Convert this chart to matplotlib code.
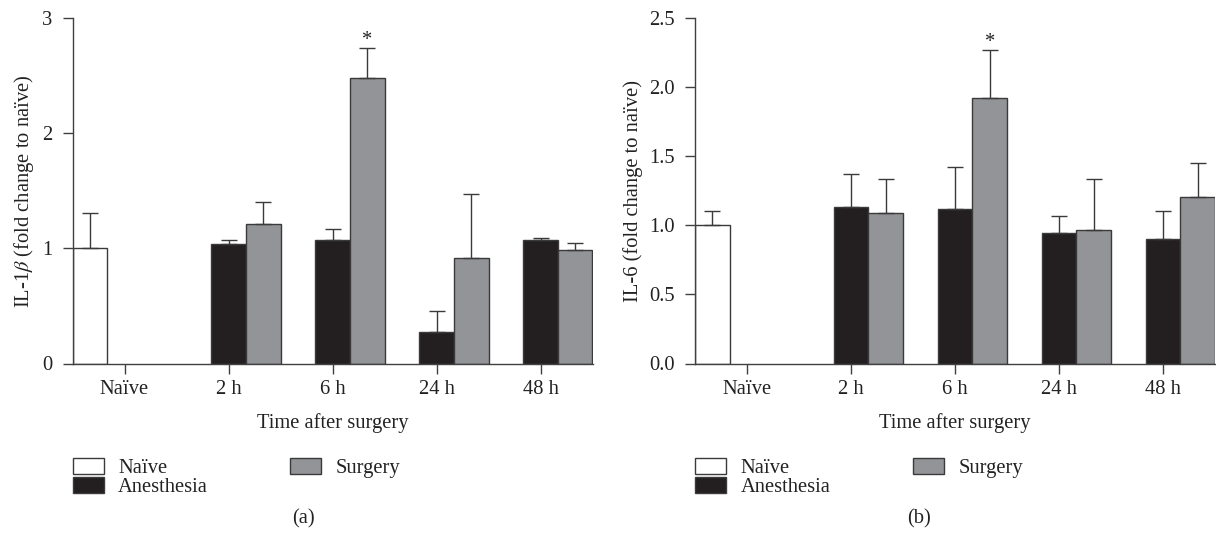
import matplotlib
matplotlib.use("Agg")
import matplotlib.pyplot as plt
import matplotlib.patches as mpatches
import numpy as np

plt.rcParams["font.family"] = ["Liberation Serif", "DejaVu Serif"]
plt.rcParams["mathtext.fontset"] = "stix"

# ---- data ----
categories = ["Naïve", "2 h", "6 h", "24 h", "48 h"]

naive_il1b = [1.00]
naive_il1b_err = [0.31]
anesthesia_il1b = [1.04, 1.07, 0.27, 1.07]
anesthesia_il1b_err = [0.035, 0.095, 0.19, 0.023]
surgery_il1b = [1.21, 2.48, 0.92, 0.985]
surgery_il1b_err = [0.19, 0.265, 0.555, 0.06]

naive_il6 = [1.00]
naive_il6_err = [0.105]
anesthesia_il6 = [1.13, 1.12, 0.945, 0.905]
anesthesia_il6_err = [0.245, 0.30, 0.125, 0.20]
surgery_il6 = [1.093, 1.923, 0.968, 1.209]
surgery_il6_err = [0.245, 0.348, 0.37, 0.24]

star_index = 1  # 6 h surgery marked significant

C_NAIVE = "#ffffff"
C_ANES = "#231f20"
C_SURG = "#929497"
EDGE = "#3a3a3a"
TXT = "#222222"
FS = 14.8


def panel(ax, naive, naive_err, anes, anes_err, surg, surg_err, ymax, yticks, ylabel, fmt):
    w = 1 / 3
    x = np.arange(len(categories))
    ekw = dict(ecolor=EDGE, elinewidth=1.0, capsize=5.5, capthick=1.0)
    ax.bar(x[:1] - w, naive, w, color=C_NAIVE, edgecolor=EDGE, linewidth=1.0,
           yerr=[np.zeros(len(naive)), naive_err], error_kw=ekw, zorder=2)
    ax.bar(x[1:], anes, w, color=C_ANES, edgecolor=EDGE, linewidth=1.0,
           yerr=[np.zeros(len(anes)), anes_err], error_kw=ekw, zorder=2)
    ax.bar(x[1:] + w, surg, w, color=C_SURG, edgecolor=EDGE, linewidth=1.0,
           yerr=[np.zeros(len(surg)), surg_err], error_kw=ekw, zorder=2)

    # significance mark above the 6 h surgery bar
    top = surg[star_index] + surg_err[star_index]
    ax.annotate("*", xy=(x[1 + star_index] + w, top), xytext=(0, 2),
                textcoords="offset points", ha="center", va="baseline",
                fontsize=FS, color=TXT)

    ax.set_xlim(-0.5, len(categories) - 0.5)
    ax.set_ylim(0, ymax)
    ax.set_xticks(x)
    ax.set_xticklabels(categories)
    ax.set_yticks(yticks)
    ax.set_yticklabels([fmt.format(t) for t in yticks])
    ax.spines["top"].set_visible(False)
    ax.spines["right"].set_visible(False)
    for s in ("left", "bottom"):
        ax.spines[s].set_color("#404040")
        ax.spines[s].set_linewidth(1.0)
    ax.tick_params(axis="both", direction="out", length=7.2, width=1.0, color="#404040",
                   labelsize=FS, labelcolor=TXT)
    ax.tick_params(axis="x", pad=5)
    ax.tick_params(axis="y", pad=7.5)
    ax.set_xlabel("Time after surgery", fontsize=FS, labelpad=10, color=TXT)
    ax.set_ylabel(ylabel, fontsize=FS, labelpad=4, color=TXT)

    handles = [
        mpatches.Patch(facecolor=C_NAIVE, edgecolor=EDGE, linewidth=1.0, label="Naïve"),
        mpatches.Patch(facecolor=C_ANES, edgecolor=EDGE, linewidth=1.0, label="Anesthesia"),
        mpatches.Patch(facecolor=C_SURG, edgecolor=EDGE, linewidth=1.0, label="Surgery"),
    ]
    pos = ax.get_position()
    fig = ax.figure
    fig.legend(handles=handles, loc="upper left",
               bbox_to_anchor=(pos.x0, 1 - 458 / 537), bbox_transform=fig.transFigure,
               ncol=2, frameon=False, fontsize=FS, borderpad=0, borderaxespad=0,
               handlelength=1.52, handleheight=0.83, handletextpad=0.7,
               labelspacing=-0.08, columnspacing=4.0, labelcolor=TXT)


fig = plt.figure(figsize=(12.16, 5.37), dpi=100)
ax_a = fig.add_axes([72.5 / 1216, 1 - 363.5 / 537, 520 / 1216, 345.2 / 537])
ax_b = fig.add_axes([695 / 1216, 1 - 363.5 / 537, 520 / 1216, 345.2 / 537])

panel(ax_a, naive_il1b, naive_il1b_err, anesthesia_il1b, anesthesia_il1b_err,
      surgery_il1b, surgery_il1b_err, 3, [0, 1, 2, 3],
      "IL-1$\\beta$ (fold change to naïve)", "{:.0f}")
panel(ax_b, naive_il6, naive_il6_err, anesthesia_il6, anesthesia_il6_err,
      surgery_il6, surgery_il6_err, 2.5, [0, 0.5, 1.0, 1.5, 2.0, 2.5],
      "IL-6 (fold change to naïve)", "{:.1f}")

fig.text(303 / 1216, 1 - 519 / 537, "(a)", ha="center", va="center", fontsize=FS, color=TXT)
fig.text(919 / 1216, 1 - 519 / 537, "(b)", ha="center", va="center", fontsize=FS, color=TXT)

fig.savefig("out.png", dpi=100, facecolor="white")
